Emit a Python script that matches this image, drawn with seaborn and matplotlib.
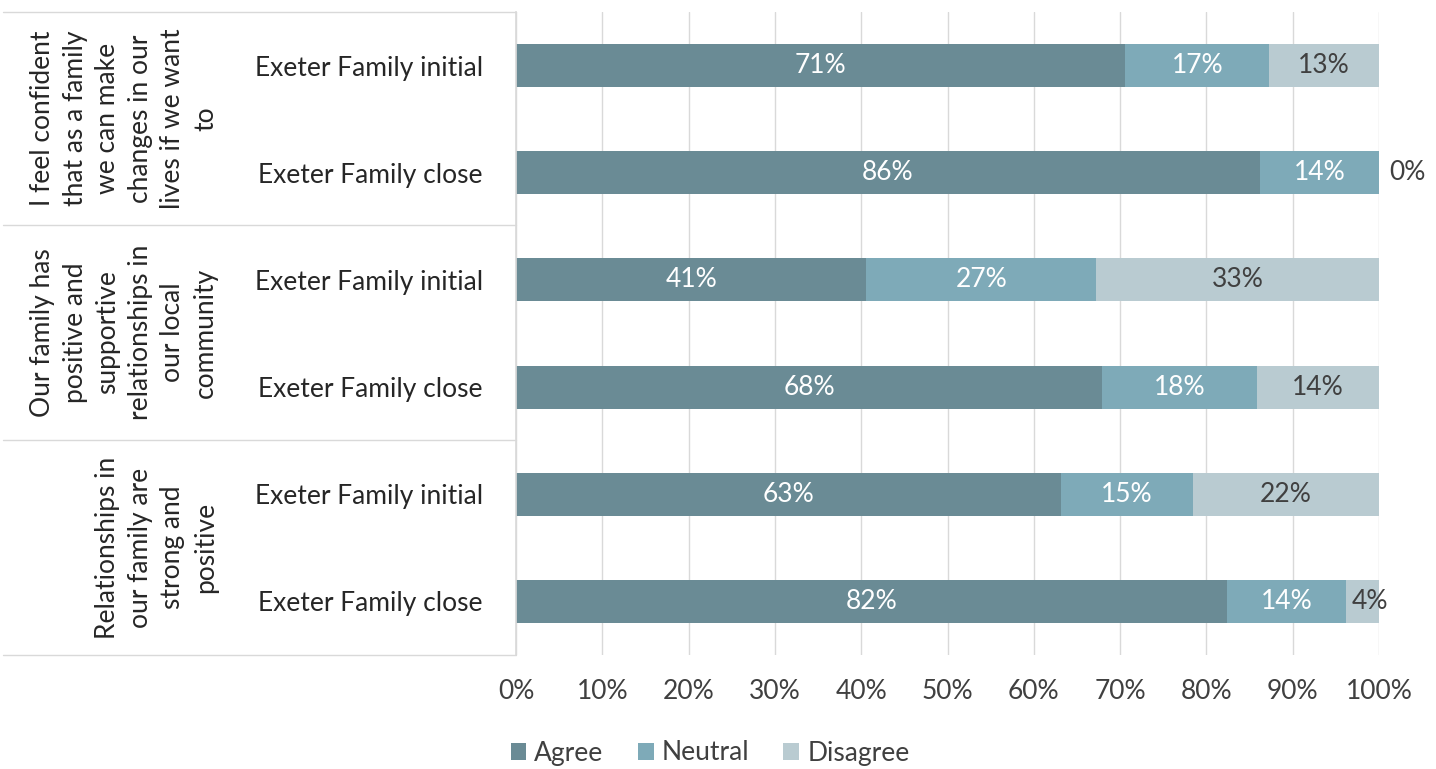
import matplotlib
matplotlib.use("Agg")
import matplotlib.pyplot as plt
import seaborn as sns
import pandas as pd
import numpy as np

# ---- data ----
row_labels = ["Exeter Family initial", "Exeter Family close",
              "Exeter Family initial", "Exeter Family close",
              "Exeter Family initial", "Exeter Family close"]
group_labels = ["I feel confident\nthat as a family\nwe can make\nchanges in our\nlives if we want\nto",
                "Our family has\npositive and\nsupportive\nrelationships in\nour local\ncommunity",
                "Relationships in\nour family are\nstrong and\npositive"]
agree = [70.6, 86.2, 40.6, 67.9, 63.2, 82.4]
neutral = [16.7, 13.8, 26.6, 18.0, 15.2, 13.8]
disagree = [12.7, 0.0, 32.8, 14.1, 21.6, 3.8]
series = ["Agree", "Neutral", "Disagree"]
colors = ["#6a8b95", "#7eaab8", "#b9cbd1"]
label_colors = ["white", "white", "#404040"]
xticks = [0, 10, 20, 30, 40, 50, 60, 70, 80, 90, 100]

sns.set_theme(style="white")
plt.rcParams['font.family'] = ['Lato', 'DejaVu Sans']
FS = 19

fig = plt.figure(figsize=(14.36, 7.69), dpi=100)
ax = fig.add_axes([516/1436, 1-655/769, (1379-516)/1436, (655-12)/769])

keys = [f"r{i}" for i in range(len(row_labels))]
a = np.array(agree); n = np.array(neutral); d = np.array(disagree)
cum = [a, a + n, a + n + d]
df = pd.DataFrame({"key": keys, "Agree": cum[0], "Neutral": cum[1], "Disagree": cum[2]})

for s, col in zip(reversed(series), reversed(colors)):
    sns.barplot(data=df, x=s, y="key", order=keys, color=col, orient="h",
                width=0.4, ax=ax, saturation=1, linewidth=0)

ax.set_xlim(0, 100)
ax.set_ylim(len(keys) - 0.5, -0.5)
ax.set_xticks(xticks)
ax.set_xticklabels([f"{t}%" for t in xticks], fontsize=FS, color="#404040")
ax.tick_params(axis="x", pad=17, length=0)
ax.set_yticks(range(len(keys)))
ax.set_yticklabels(row_labels, fontsize=FS, color="#262626")
ax.tick_params(axis="y", pad=24, length=0)
ax.set_xlabel(""); ax.set_ylabel("")
ax.set_axisbelow(True)
ax.grid(axis="x", color="#d9d9d9", linewidth=1)
for sp in ["top", "right", "bottom"]:
    ax.spines[sp].set_visible(False)
ax.spines["left"].set_color("#d9d9d9")

# value labels
vals = [a, n, d]
starts = [np.zeros_like(a), a, a + n]
for k in range(3):
    for i in range(len(keys)):
        v = vals[k][i]
        if v <= 0.05:
            ax.text(starts[k][i] + 1.2, i, f"{round(v):.0f}%", ha="left", va="center",
                    fontsize=FS, color="#404040")
        elif v < 5:
            ax.text(starts[k][i] + 0.6, i, f"{round(v):.0f}%", ha="left", va="center",
                    fontsize=FS, color=label_colors[k])
        else:
            ax.text(starts[k][i] + v / 2, i, f"{round(v):.0f}%", ha="center", va="center",
                    fontsize=FS, color=label_colors[k])

# left table lines
ys = [12, 225, 440, 655]
for y in ys:
    fig.add_artist(plt.Line2D([3/1436, 516/1436], [1 - y/769, 1 - y/769],
                              color="#d9d9d9", linewidth=1))

# group labels
centers = [(12 + 225) / 2, (225 + 440) / 2, (440 + 655) / 2]
for g, cy in zip(group_labels, centers):
    fig.text(218/1436, 1 - cy/769, g, rotation=90, ha="right", va="center",
             multialignment="center", fontsize=FS, color="#262626", linespacing=1.38)

# legend
from matplotlib.patches import Patch
handles = [Patch(facecolor=c, edgecolor="none") for c in colors]
fig.legend(handles, series, loc="center", bbox_to_anchor=(710/1436, 1 - 753/769),
           ncol=3, frameon=False, fontsize=FS, handlelength=0.6, handleheight=0.6,
           handletextpad=0.3, columnspacing=1.3, labelcolor="#404040")

fig.savefig("out.png", dpi=100)
